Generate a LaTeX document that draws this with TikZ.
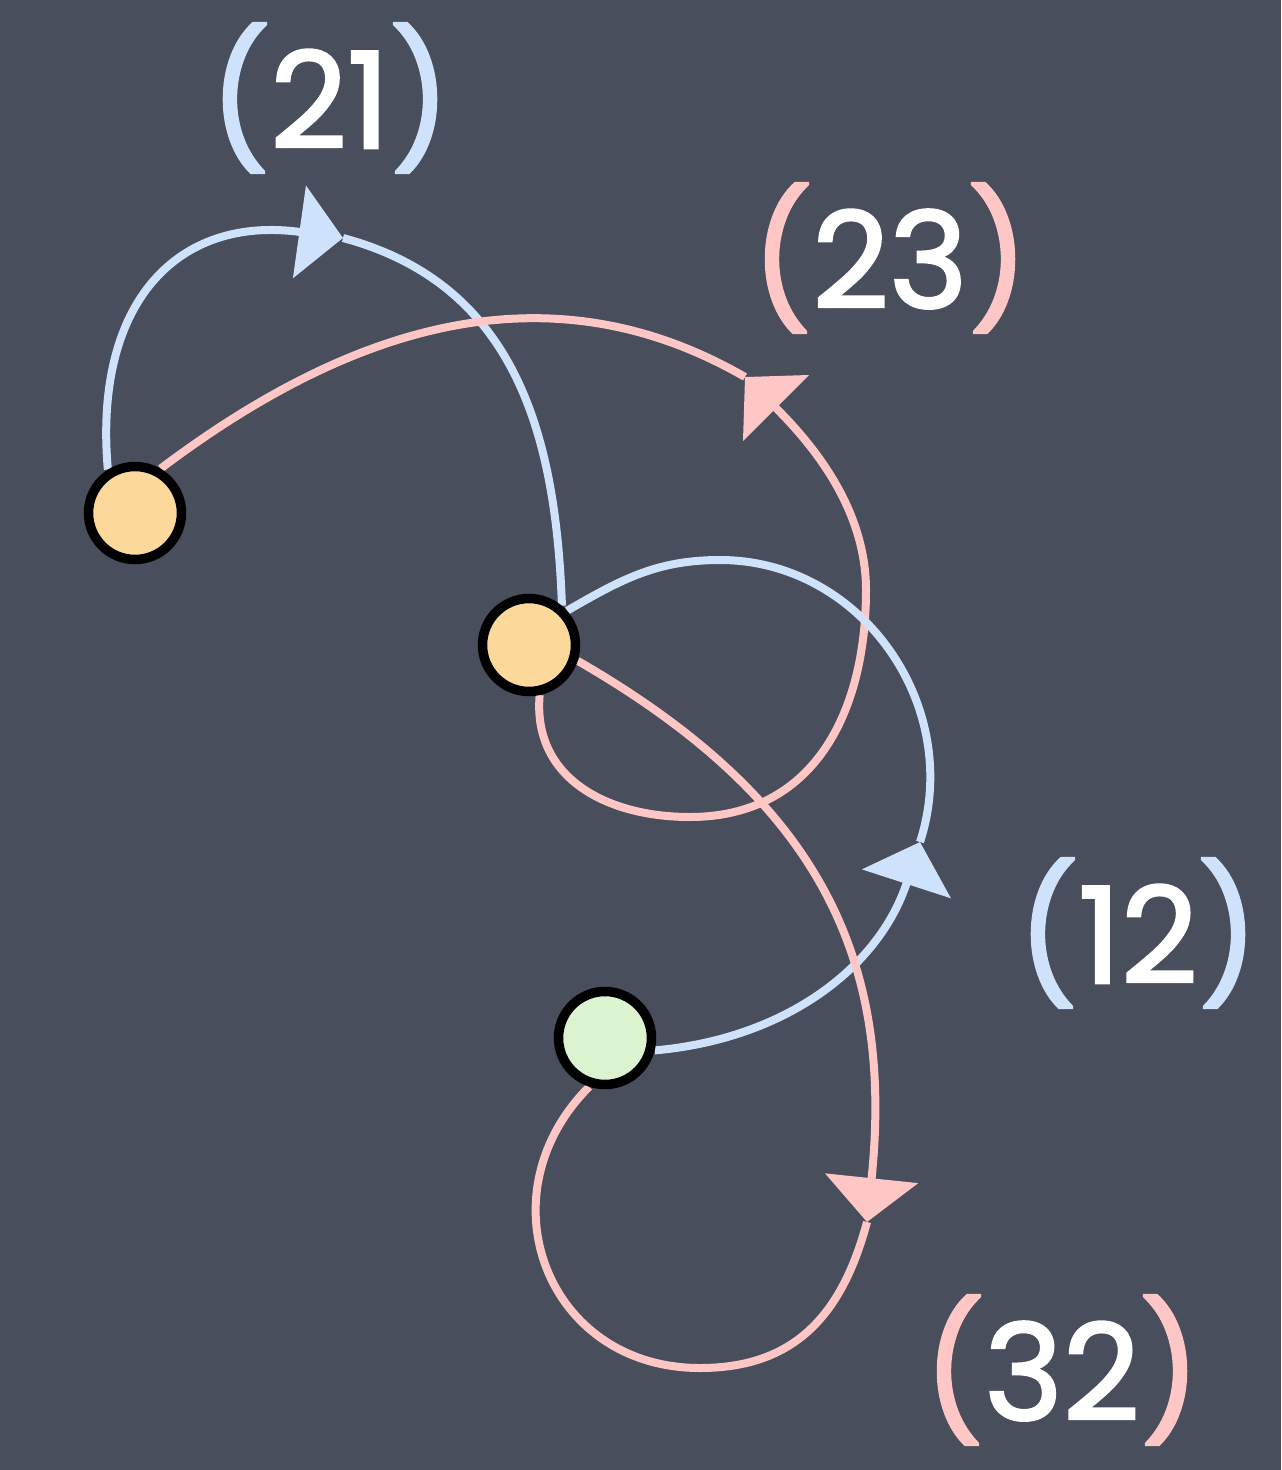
\documentclass[tikz,border=0pt]{standalone}
\usepackage{fontspec}
\setmainfont{Poppins}
\newfontfamily\lblfont{Poppins}[FakeBold=2]
\usetikzlibrary{arrows.meta}
\definecolor{bgc}{HTML}{484E5B}
\definecolor{lblue}{HTML}{CFE2FB}
\definecolor{lpink}{HTML}{FEC6C4}
\definecolor{lorange}{HTML}{FDD89B}
\definecolor{lgreen}{HTML}{DCF3CF}
\pgfdeclarelayer{back}
\pgfdeclarelayer{curves}
\pgfsetlayers{back,curves,main}
\tikzset{
  vtx/.style={circle, draw=black, line width=0.19cm, minimum size=1.86cm, inner sep=0pt},
  bluecurve/.style={draw=lblue, line width=0.16cm},
  pinkcurve/.style={draw=lpink, line width=0.16cm},
  bigtip/.style={-{Triangle[length=0.88cm,width=1.84cm]}},
  lbl/.style={font=\lblfont\fontsize{76}{76}\selectfont, text=white, inner sep=0pt}
}
\begin{document}
\begin{tikzpicture}[x=0.02cm,y=-0.02cm]
\begin{pgfonlayer}{back}
\fill[bgc] (0,0) rectangle (1281,1470);
\end{pgfonlayer}
\useasboundingbox (0,0) rectangle (1281,1470);

\node[vtx, fill=lorange] (n1) at (135,513) {};
\node[vtx, fill=lorange] (n2) at (529,645) {};
\node[vtx, fill=lgreen] (n3) at (605,1038) {};

\coordinate (a21) at (343,238);
\coordinate (a23) at (745,377);
\coordinate (a12) at (920,842);
\coordinate (a32) at (867,1222);
\coordinate (b23) at (690,817);
\coordinate (r23) at (866,590);
\coordinate (t12) at (720,560);
\coordinate (b32) at (700,1368);

\begin{pgfonlayer}{curves}
% (21)
\draw[bluecurve, bigtip] (n1.122) to[out=95,in=172,looseness=1.3] (a21);
\draw[bluecurve] (a21) to[out=-15,in=92,looseness=1.05] (n2.50);
% (23)
\draw[pinkcurve] (n2.-78) to[out=-95,in=180,looseness=1.1] (b23)
   to[out=0,in=-90,looseness=1.1] (r23);
\draw[pinkcurve, bigtip] (r23) to[out=90,in=-45,looseness=0.9] (a23);
\draw[pinkcurve] (a23) to[out=150,in=37] (n1.60);
% (12)
\draw[bluecurve, bigtip] (n3.-14) to[out=5,in=-108] (a12);
\draw[bluecurve] (a12) to[out=72,in=0,looseness=1.05] (t12)
   to[out=180,in=30] (n2.42);
% (32)
\draw[pinkcurve, bigtip] (n2.-18) to[out=-30,in=84,looseness=1.1] (a32);
\draw[pinkcurve] (a32) to[out=-105,in=0,looseness=1.1] (b32)
   to[out=180,in=-135,looseness=1.3] (n3.-108);
\end{pgfonlayer}

\node[lbl] (l21) at (330,98) {\textcolor{lblue}{(}21\textcolor{lblue}{)}};
\node[lbl] (l23) at (890,258) {\textcolor{lpink}{(}23\textcolor{lpink}{)}};
\node[lbl] (l12) at (1138,933) {\textcolor{lblue}{(}12\textcolor{lblue}{)}};
\node[lbl] (l32) at (1062,1370) {\textcolor{lpink}{(}32\textcolor{lpink}{)}};
\end{tikzpicture}
\end{document}
